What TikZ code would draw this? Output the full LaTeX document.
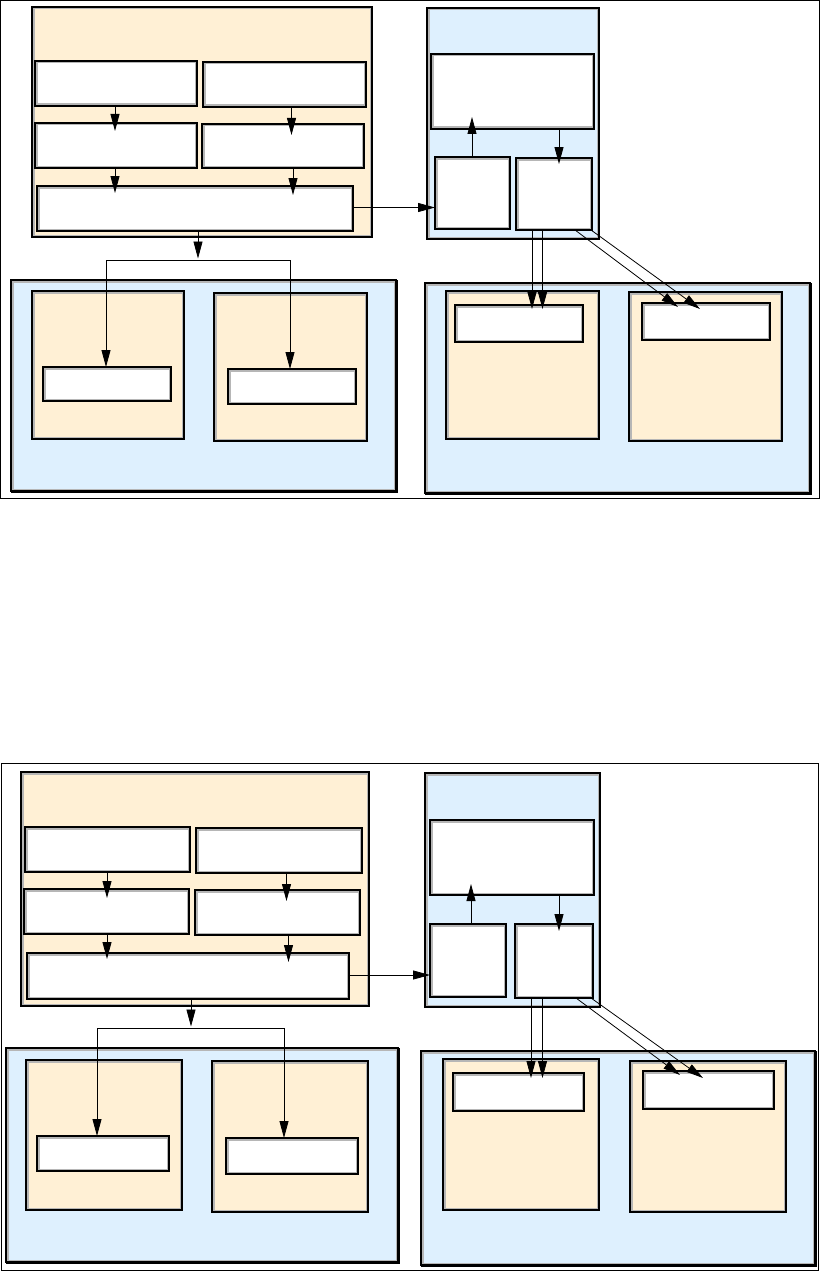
\documentclass[tikz,border=0pt]{standalone}
\usetikzlibrary{arrows.meta,calc}
\definecolor{beigec}{RGB}{255,240,213}
\definecolor{bluec}{RGB}{222,240,254}
\definecolor{graybd}{RGB}{182,182,182}
\tikzset{
  box/.style={draw=black, line width=1.1pt, inner sep=0pt, outer sep=0pt,
    path picture={\draw[graybd, line width=5pt] (path picture bounding box.south west) rectangle (path picture bounding box.north east);}},
  beigebox/.style={box, fill=beigec},
  bluebox/.style={box, fill=bluec},
  whitebox/.style={box, fill=white},
  arr/.style={-{Triangle[length=17pt,width=9pt]}, line width=0.8pt},
  conn/.style={line width=0.8pt},
  shadowline/.style={line width=2.2pt}
}
\newcommand\bx[6]{\node[#2, anchor=north west, minimum width={(#5-#3)*1pt}, minimum height={(#6-#4)*1pt}] (#1) at (#3,#4) {};}
\begin{document}
\begin{tikzpicture}[x=1pt,y=-1pt]
\useasboundingbox (0,0) rectangle (821,1271);
% frames
\draw[line width=1pt] (0.5,0.5) rectangle (819,498);
\draw[line width=1pt] (1,763) rectangle (818,1270);

% ================= TOP DIAGRAM =================
\bx{tA}{beigebox}{32}{7}{372}{237}
\bx{tR1L}{whitebox}{35}{61}{197}{106}
\bx{tR1R}{whitebox}{203}{62}{366}{107}
\bx{tR2L}{whitebox}{35}{123}{197}{168}
\bx{tR2R}{whitebox}{202}{124}{364}{168}
\bx{tR3}{whitebox}{37}{186}{353}{231}
\bx{tC}{bluebox}{427}{8}{599}{239}
\bx{tCbig}{whitebox}{431}{54}{594}{129}
\bx{tCsl}{whitebox}{435}{157}{510}{229}
\bx{tCsr}{whitebox}{516}{158}{592}{230}
\bx{tB}{bluebox}{11}{280}{396}{491}
\draw[shadowline] ([xshift=1.1pt]tB.north east) -- ([xshift=1.1pt,yshift=-1.1pt]tB.south east) -- ([yshift=-1.1pt]tB.south west);
\bx{tBl}{beigebox}{32}{291}{184}{439}
\bx{tBr}{beigebox}{214}{293}{367}{441}
\bx{tBlw}{whitebox}{43}{367}{171}{401}
\bx{tBrw}{whitebox}{228}{369}{356}{404}
\bx{tD}{bluebox}{425}{283}{810}{493}
\draw[shadowline] ([xshift=1.1pt]tD.north east) -- ([xshift=1.1pt,yshift=-1.1pt]tD.south east) -- ([yshift=-1.1pt]tD.south west);
\bx{tDl}{beigebox}{446}{291}{599}{439}
\bx{tDr}{beigebox}{629}{292}{782}{441}
\bx{tDlw}{whitebox}{455}{305}{583}{342}
\bx{tDrw}{whitebox}{642}{303}{770}{340}

% top arrows
\draw[arr, shorten >=-8pt] ([xshift=-1pt]tR1L.south) -- ([xshift=-1pt]tR1L.south |- tR2L.north);
\draw[arr, shorten >=-11pt] ([xshift=7pt]tR1R.south) -- ([xshift=7pt]tR1R.south |- tR2R.north);
\draw[arr, shorten >=-7pt] ([xshift=-1pt]tR2L.south) -- ([xshift=-1pt]tR2L.south |- tR3.north);
\draw[arr, shorten >=-9pt] ([xshift=10pt]tR2R.south) -- ([xshift=10pt]tR2R.south |- tR3.north);
\draw[arr] ([yshift=1pt]tR3.east) -- ([yshift=1pt]tR3.east -| tCsl.west);
\coordinate (tF) at (198,260);
\coordinate (tFL) at (106,260);
\coordinate (tFR) at (290,260);
\draw[arr, shorten >=1.5pt] ([xshift=3pt]tR3.south) -- (tF);
\draw[conn] (tFL) -- (tFR);
\draw[arr] (tFL) -- (tFL |- tBlw.north);
\draw[arr] (tFR) -- (tFR |- tBrw.north);
\draw[arr, shorten >=-12pt] ([xshift=-0.5pt]tCsl.north) -- ([xshift=-0.5pt]tCsl.north |- tCbig.south);
\draw[arr, shorten >=-6pt] ([xshift=5pt]tCsr.north |- tCbig.south) -- ([xshift=5pt]tCsr.north);
\draw[arr, shorten >=-4pt] ([xshift=-22pt]tCsr.south) -- ([xshift=-22pt]tCsr.south |- tDlw.north);
\draw[arr, shorten >=-4pt] ([xshift=-11.5pt]tCsr.south) -- ([xshift=-11.5pt]tCsr.south |- tDlw.north);
\draw[arr] ([xshift=-17pt]tCsr.south east) -- ([xshift=36pt,yshift=-4pt]tDrw.north west);
\draw[arr] ([xshift=-1pt]tCsr.south east) -- ([xshift=58pt,yshift=-6pt]tDrw.north west);

% ================= BOTTOM DIAGRAM =================
\bx{bA}{beigebox}{21}{772}{369}{1006}
\bx{bR1L}{whitebox}{25}{827}{190}{872}
\bx{bR1R}{whitebox}{196}{828}{362}{873}
\bx{bR2L}{whitebox}{24}{889}{189}{934}
\bx{bR2R}{whitebox}{195}{890}{360}{935}
\bx{bR3}{whitebox}{27}{953}{349}{999}
\bx{bC}{bluebox}{425}{773}{600}{1007}
\bx{bCbig}{whitebox}{430}{820}{594}{895}
\bx{bCsl}{whitebox}{430}{924}{506}{997}
\bx{bCsr}{whitebox}{515}{924}{593}{998}
\bx{bB}{bluebox}{6}{1048}{398}{1262}
\draw[shadowline] ([xshift=1.1pt]bB.north east) -- ([xshift=1.1pt,yshift=-1.1pt]bB.south east) -- ([yshift=-1.1pt]bB.south west);
\bx{bBl}{beigebox}{26}{1060}{182}{1210}
\bx{bBr}{beigebox}{212}{1061}{368}{1212}
\bx{bBlw}{whitebox}{37}{1136}{169}{1171}
\bx{bBrw}{whitebox}{226}{1138}{358}{1174}
\bx{bD}{bluebox}{421}{1051}{815}{1265}
\draw[shadowline] ([xshift=1.1pt]bD.north east) -- ([xshift=1.1pt,yshift=-1.1pt]bD.south east) -- ([yshift=-1.1pt]bD.south west);
\bx{bDl}{beigebox}{443}{1059}{599}{1210}
\bx{bDr}{beigebox}{630}{1061}{786}{1212}
\bx{bDlw}{whitebox}{453}{1073}{584}{1111}
\bx{bDrw}{whitebox}{643}{1071}{774}{1109}

% bottom arrows
\draw[arr, shorten >=-9pt] ([xshift=-0.5pt]bR1L.south) -- ([xshift=-0.5pt]bR1L.south |- bR2L.north);
\draw[arr, shorten >=-11pt] ([xshift=7.5pt]bR1R.south) -- ([xshift=7.5pt]bR1R.south |- bR2R.north);
\draw[arr, shorten >=-6pt] ([xshift=0.5pt]bR2L.south) -- ([xshift=0.5pt]bR2L.south |- bR3.north);
\draw[arr, shorten >=-9pt] ([xshift=11pt]bR2R.south) -- ([xshift=11pt]bR2R.south |- bR3.north);
\draw[arr] ([yshift=1pt]bR3.east) -- ([yshift=1pt]bR3.east -| bCsl.west);
\coordinate (bF) at (191,1028);
\coordinate (bFL) at (97,1028);
\coordinate (bFR) at (284,1028);
\draw[arr, shorten >=1.5pt] (bR3.south -| bF) -- (bF);
\draw[conn] (bFL) -- (bFR);
\draw[arr] (bFL) -- (bFL |- bBlw.north);
\draw[arr] (bFR) -- (bFR |- bBrw.north);
\draw[arr, shorten >=-11pt] ([xshift=3pt]bCsl.north) -- ([xshift=3pt]bCsl.north |- bCbig.south);
\draw[arr, shorten >=-7pt] ([xshift=5pt]bCsr.north |- bCbig.south) -- ([xshift=5pt]bCsr.north);
\draw[arr, shorten >=-5pt] ([xshift=-23pt]bCsr.south) -- ([xshift=-23pt]bCsr.south |- bDlw.north);
\draw[arr, shorten >=-5pt] ([xshift=-11.5pt]bCsr.south) -- ([xshift=-11.5pt]bCsr.south |- bDlw.north);
\draw[arr] ([xshift=-17pt]bCsr.south east) -- ([xshift=37pt,yshift=-4pt]bDrw.north west);
\draw[arr] ([xshift=-2pt]bCsr.south east) -- ([xshift=60pt,yshift=-7pt]bDrw.north west);
\end{tikzpicture}
\end{document}
